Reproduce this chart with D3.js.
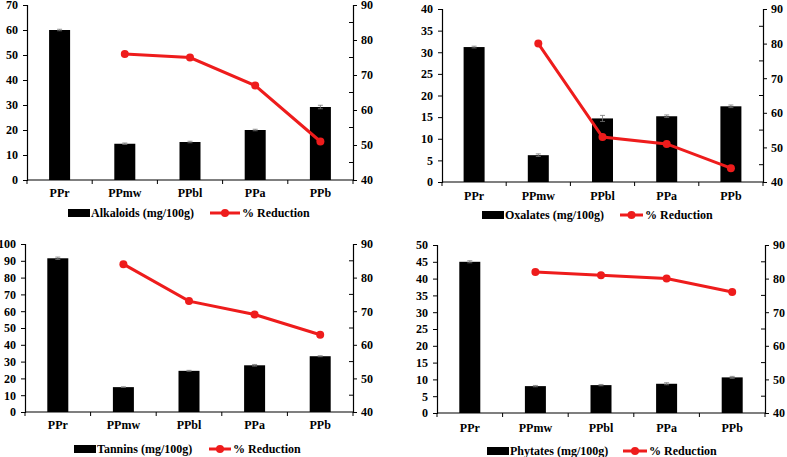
<!DOCTYPE html>
<html><head><meta charset="utf-8">
<script src="https://cdn.jsdelivr.net/npm/d3@7"></script>
<style>body{margin:0;background:#fff}svg{display:block}text{font-family:"Liberation Serif","Times New Roman",serif;font-weight:bold;fill:#000}</style>
</head><body><svg id="c" width="787" height="457"></svg>
<script>
const categories = ["PPr","PPmw","PPbl","PPa","PPb"];
const reductionCats = ["PPmw","PPbl","PPa","PPb"];

const alkaloids = [60, 14.5, 15.2, 20, 29.2];
const alkaloidsErr = [0.3, 0.3, 0.3, 0.3, 0.7];
const alkaloidsReduction = [76, 75, 67, 51];

const oxalates = [31.2, 6.2, 14.7, 15.2, 17.5];
const oxalatesErr = [0.2, 0.3, 0.7, 0.3, 0.3];
const oxalatesReduction = [80, 53, 51, 44];

const tannins = [91.5, 14.8, 24.5, 27.8, 33.2];
const tanninsErr = [0.7, 0.2, 0.3, 0.5, 0.3];
const tanninsReduction = [84, 73, 69, 63];

const phytates = [45, 8, 8.3, 8.7, 10.6];
const phytatesErr = [0.3, 0.2, 0.2, 0.3, 0.3];
const phytatesReduction = [82, 81, 80, 76];

const leftTicks1 = [0,10,20,30,40,50,60,70];
const leftTicks2 = [0,5,10,15,20,25,30,35,40];
const leftTicks3 = [0,10,20,30,40,50,60,70,80,90,100];
const leftTicks4 = [0,5,10,15,20,25,30,35,40,45,50];
const rightTicks = [40,50,60,70,80,90];
const rightMinor = [45,55,65,75,85];

const svg = d3.select("#c");
const FS = 12;

const panels = [
  {name:"Alkaloids (mg/100g)", vals:alkaloids, err:alkaloidsErr, red:alkaloidsReduction, ticks:leftTicks1,
   x0:27, x1:353, yT:5, yB:180, labY:193, legY:213, sw:68, lineSw:[210,240]},
  {name:"Oxalates (mg/100g)", vals:oxalates, err:oxalatesErr, red:oxalatesReduction, ticks:leftTicks2,
   x0:442, x1:763, yT:9, yB:182, labY:196, legY:215, sw:482, lineSw:[620,643]},
  {name:"Tannins (mg/100g)", vals:tannins, err:tanninsErr, red:tanninsReduction, ticks:leftTicks3,
   x0:25, x1:353, yT:244, yB:412, labY:425, legY:449, sw:74, lineSw:[209,231]},
  {name:"Phytates (mg/100g)", vals:phytates, err:phytatesErr, red:phytatesReduction, ticks:leftTicks4,
   x0:437, x1:765, yT:245, yB:413, labY:428, legY:451, sw:487, lineSw:[623,647]}
];

panels.forEach(p => {
  const g = svg.append("g");
  const step = (p.x1 - p.x0) / categories.length;
  const y = d3.scaleLinear().domain([0, d3.max(p.ticks)]).range([p.yB, p.yT]);
  const y2 = d3.scaleLinear().domain([40, 90]).range([p.yB, p.yT]);
  const xc = c => p.x0 + step * (categories.indexOf(c) + 0.5);
  const bw = 21;

  g.selectAll("rect.bar").data(p.vals).enter().append("rect")
    .attr("x", (d,i) => xc(categories[i]) - bw/2).attr("width", bw)
    .attr("y", d => y(d)).attr("height", d => p.yB - y(d)).attr("fill", "#000");
  p.vals.forEach((v,i) => {
    const cx = xc(categories[i]);
    const e = p.err[i];
    g.append("path").attr("d", `M${cx},${y(v+e)}V${y(v-e)}M${cx-2.5},${y(v+e)}H${cx+2.5}M${cx-2.5},${y(v-e)}H${cx+2.5}`)
      .attr("stroke", "#777").attr("stroke-width", 0.8).attr("fill","none");
  });

  const la = g.append("g").attr("transform", `translate(${p.x0},0)`)
    .call(d3.axisLeft(y).tickValues(p.ticks).tickSize(4).tickPadding(5).tickFormat(d3.format("d")));
  la.attr("font-family", null).attr("font-size", null);
  la.select(".domain").attr("stroke-width", 1.2);
  la.selectAll("text").attr("font-size", FS);

  const ra = g.append("g").attr("transform", `translate(${p.x1},0)`)
    .call(d3.axisRight(y2).tickValues(rightTicks).tickSize(4).tickPadding(4).tickFormat(d3.format("d")));
  ra.attr("font-family", null).attr("font-size", null);
  ra.select(".domain").attr("stroke-width", 1.2);
  ra.selectAll("text").attr("font-size", FS);
  g.selectAll("line.minor").data(rightMinor).enter().append("line")
    .attr("x1", p.x1 - 4).attr("x2", p.x1).attr("y1", d => y2(d)).attr("y2", d => y2(d)).attr("stroke", "#000");

  g.append("line").attr("x1", p.x0).attr("x2", p.x1).attr("y1", p.yB).attr("y2", p.yB).attr("stroke", "#000").attr("stroke-width", 1.2);
  d3.range(categories.length + 1).forEach(i => {
    const xx = p.x0 + step * i;
    g.append("line").attr("x1", xx).attr("x2", xx).attr("y1", p.yB).attr("y2", p.yB + 4).attr("stroke", "#000");
  });
  g.selectAll("text.cat").data(categories).enter().append("text")
    .attr("x", d => xc(d)).attr("y", p.labY).attr("text-anchor", "middle").attr("dominant-baseline", "central")
    .attr("font-size", FS).text(d => d);

  const line = d3.line().x((d,i) => xc(reductionCats[i])).y(d => y2(d));
  g.append("path").datum(p.red).attr("d", line).attr("fill", "none").attr("stroke", "#ee1c1c").attr("stroke-width", 3);
  g.selectAll("circle.pt").data(p.red).enter().append("circle")
    .attr("cx", (d,i) => xc(reductionCats[i])).attr("cy", d => y2(d)).attr("r", 4).attr("fill", "#ee1c1c");

  g.append("rect").attr("x", p.sw).attr("y", p.legY - 4).attr("width", 22).attr("height", 8).attr("fill", "#000");
  g.append("text").attr("x", p.sw + 23).attr("y", p.legY).attr("dominant-baseline", "central").attr("font-size", FS).text(p.name);
  g.append("line").attr("x1", p.lineSw[0]).attr("x2", p.lineSw[1]).attr("y1", p.legY).attr("y2", p.legY).attr("stroke", "#ee1c1c").attr("stroke-width", 3);
  g.append("circle").attr("cx", (p.lineSw[0] + p.lineSw[1]) / 2).attr("cy", p.legY).attr("r", 4).attr("fill", "#ee1c1c");
  g.append("text").attr("x", p.lineSw[1] + 2).attr("y", p.legY).attr("dominant-baseline", "central").attr("font-size", FS).text("% Reduction");
});
</script></body></html>
